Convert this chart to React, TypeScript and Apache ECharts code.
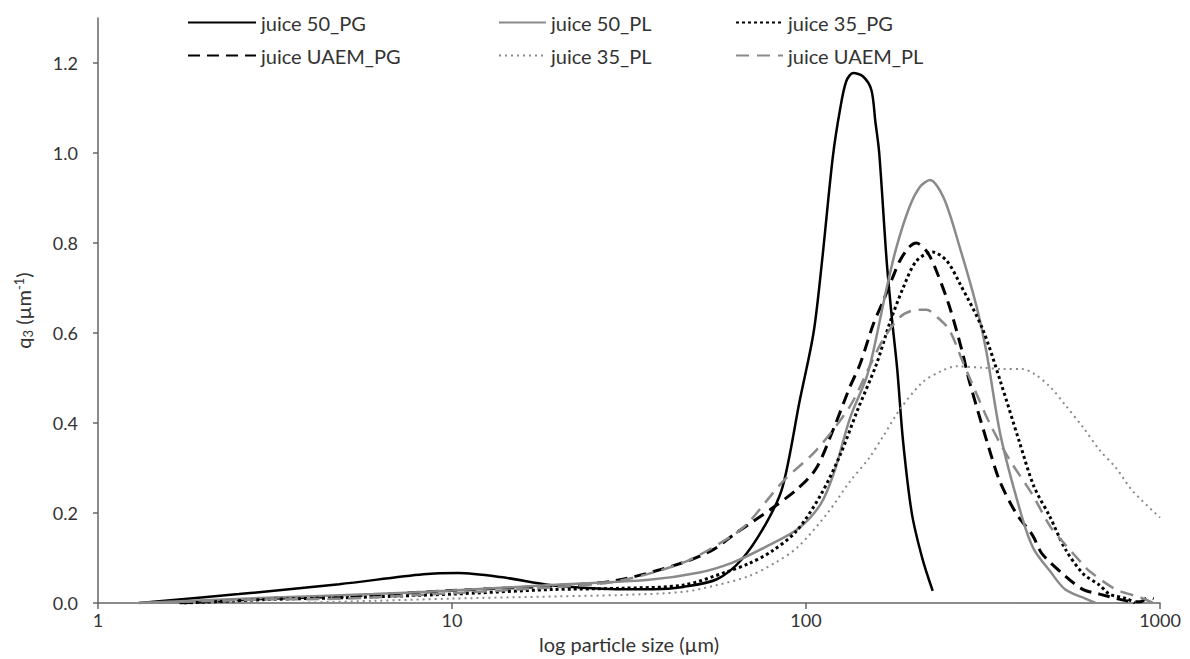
import React, { useEffect, useRef } from "react";
import * as echarts from "echarts";

const seriesNames = ["juice 50_PG", "juice UAEM_PG", "juice 50_PL", "juice 35_PL", "juice 35_PG", "juice UAEM_PL"];

const pg50X = [1.31, 2.5, 4.8, 8.3, 10.4, 13.7, 18.9, 23.4, 29, 37, 45, 56, 66, 77.5, 86, 96, 105, 111, 119, 125, 130, 136, 145, 153, 157, 161, 169, 175, 181, 188, 199, 213, 228];
const pg50Y = [0, 0.02, 0.042, 0.064, 0.067, 0.058, 0.04, 0.034, 0.031, 0.031, 0.036, 0.053, 0.098, 0.18, 0.26, 0.45, 0.6, 0.76, 0.99, 1.1, 1.16, 1.178, 1.17, 1.14, 1.07, 1.0, 0.76, 0.63, 0.52, 0.36, 0.2, 0.1, 0.027];

const pl50X = [1.3, 3, 6, 10, 19, 36, 50, 62, 77, 95, 110, 120, 133, 148, 155, 169, 180, 196, 210, 224, 245, 272, 303, 323, 355, 408, 440, 490, 540, 607, 660];
const pl50Y = [0, 0.012, 0.02, 0.028, 0.04, 0.052, 0.068, 0.09, 0.125, 0.165, 0.22, 0.29, 0.41, 0.5, 0.56, 0.7, 0.79, 0.88, 0.925, 0.94, 0.9, 0.79, 0.66, 0.56, 0.37, 0.19, 0.12, 0.07, 0.03, 0.012, 0];

const pg35X = [1.75, 3, 5, 10, 19, 30, 45, 60, 69, 80, 94, 110, 125, 140, 158, 172, 188, 205, 228, 250, 272, 315, 355, 400, 440, 490, 540, 607, 675, 720, 805, 850];
const pg35Y = [0, 0.008, 0.012, 0.02, 0.03, 0.033, 0.04, 0.07, 0.088, 0.115, 0.16, 0.24, 0.33, 0.43, 0.53, 0.62, 0.7, 0.76, 0.78, 0.76, 0.71, 0.61, 0.49, 0.36, 0.26, 0.19, 0.12, 0.065, 0.04, 0.02, 0.01, 0];

const uaemPgX = [1.7, 3, 5, 10, 19, 29, 45, 55, 62, 80, 95, 107, 120, 133, 142, 155, 165, 175, 184, 195, 205, 220, 233, 254, 276, 290, 330, 353, 392, 437, 464, 540, 607, 675, 805, 880, 930, 960];
const uaemPgY = [0, 0.01, 0.015, 0.028, 0.038, 0.05, 0.09, 0.12, 0.15, 0.21, 0.255, 0.3, 0.39, 0.48, 0.53, 0.62, 0.67, 0.72, 0.76, 0.79, 0.8, 0.78, 0.74, 0.66, 0.56, 0.49, 0.34, 0.27, 0.2, 0.15, 0.11, 0.06, 0.03, 0.02, 0.005, 0.003, 0.013, 0.01];

const pl35X = [3.5, 6, 10, 20, 30, 45, 56, 69, 82, 95, 115, 133, 150, 165, 184, 213, 240, 266, 316, 360, 408, 440, 490, 540, 607, 675, 752, 835, 1000];
const pl35Y = [0, 0.005, 0.01, 0.015, 0.018, 0.025, 0.04, 0.06, 0.09, 0.125, 0.2, 0.27, 0.32, 0.37, 0.43, 0.49, 0.515, 0.526, 0.523, 0.52, 0.52, 0.51, 0.48, 0.44, 0.39, 0.34, 0.3, 0.25, 0.19];

const uaemPlX = [1.3, 3, 5, 10, 19, 29, 45, 62, 69, 86, 107, 133, 150, 165, 184, 200, 219, 235, 254, 276, 290, 330, 375, 437, 490, 540, 607, 634, 752, 877, 960];
const uaemPlY = [0, 0.008, 0.01, 0.022, 0.035, 0.048, 0.09, 0.15, 0.18, 0.27, 0.34, 0.437, 0.52, 0.585, 0.635, 0.65, 0.652, 0.635, 0.607, 0.54, 0.5, 0.4, 0.32, 0.24, 0.17, 0.13, 0.085, 0.07, 0.03, 0.013, 0];

const yTicks = [0, 0.2, 0.4, 0.6, 0.8, 1.0, 1.2];

const pairs = (xs: number[], ys: number[]) => xs.map((x, i) => [x, ys[i]]);

const FONT = "Lato";
const TEXT = "#333333";
const AXIS = "#666666";
const GRAY = "#8a8a8a";
const FS = 20;

export default function App() {
  const ref = useRef<HTMLDivElement>(null);
  useEffect(() => {
    if (!ref.current) return;
    const chart = echarts.init(ref.current, undefined, { renderer: "svg" });
    const mk = (name: string, data: number[][], color: string, width: number, type: any) => ({
      name,
      type: "line",
      data,
      smooth: 0.3,
      symbol: "none",
      lineStyle: { color, width, type },
      itemStyle: { color },
      z: 2,
    });
    const legendBase = {
      orient: "vertical",
      top: 6,
      itemHeight: 14,
      itemGap: 10,
      itemStyle: { opacity: 0 },
      textStyle: { fontFamily: FONT, fontSize: FS, color: TEXT, lineHeight: 23 },
      selectedMode: false,
    };
    chart.setOption({
      animation: false,
      backgroundColor: "#ffffff",
      textStyle: { fontFamily: FONT },
      grid: { left: 98, right: 30, top: 18, bottom: 55, containLabel: false },
      legend: [
        { ...legendBase, left: 182, itemWidth: 68, data: [seriesNames[0], seriesNames[1]] },
        { ...legendBase, left: 493, itemWidth: 47, data: [seriesNames[2], seriesNames[3]] },
        { ...legendBase, left: 730, itemWidth: 47, data: [seriesNames[4], seriesNames[5]] },
      ],
      xAxis: {
        type: "log",
        logBase: 10,
        min: 1,
        max: 1000,
        name: "log particle size (µm)",
        nameLocation: "middle",
        nameGap: 30,
        nameTextStyle: { fontFamily: FONT, fontSize: FS, color: TEXT },
        axisLine: { lineStyle: { color: AXIS, width: 1.5 } },
        axisTick: { show: true, length: 6, lineStyle: { color: AXIS, width: 1.5 } },
        minorTick: { show: false },
        axisLabel: { fontFamily: FONT, fontSize: 18, color: TEXT, margin: 8, formatter: (v: number) => String(Math.round(v)) },
        splitLine: { show: false },
      },
      yAxis: {
        type: "value",
        min: 0,
        max: 1.3,
        interval: 0.2,
        name: "{q|q}{sub|3}{q| (µm}{sup|-1}{q|)}",
        nameLocation: "middle",
        nameGap: 64,
        nameRotate: 90,
        nameTextStyle: {
          fontFamily: FONT,
          fontSize: FS,
          color: TEXT,
          rich: {
            q: { fontFamily: FONT, fontSize: FS, color: TEXT },
            sub: { fontFamily: FONT, fontSize: 13, color: TEXT, verticalAlign: "bottom", padding: [9, 0, 0, 0] },
            sup: { fontFamily: FONT, fontSize: 13, color: TEXT, verticalAlign: "top", padding: [0, 0, 9, 0] },
          },
        },
        axisLine: { show: true, lineStyle: { color: AXIS, width: 1.5 } },
        axisTick: { show: true, length: 5, customValues: yTicks, lineStyle: { color: AXIS, width: 1.5 } },
        axisLabel: {
          fontFamily: FONT,
          fontSize: 18,
          color: TEXT,
          margin: 20,
          customValues: yTicks,
          formatter: (v: number) => v.toFixed(1),
        },
        splitLine: { show: false },
      },
      series: [
        mk(seriesNames[0], pairs(pg50X, pg50Y), "#000000", 2.5, "solid"),
        mk(seriesNames[1], pairs(uaemPgX, uaemPgY), "#000000", 3, [12, 7]),
        mk(seriesNames[2], pairs(pl50X, pl50Y), GRAY, 2.5, "solid"),
        mk(seriesNames[3], pairs(pl35X, pl35Y), GRAY, 2, [2, 4]),
        mk(seriesNames[4], pairs(pg35X, pg35Y), "#000000", 3, [3, 3]),
        mk(seriesNames[5], pairs(uaemPlX, uaemPlY), GRAY, 2.5, [13, 8]),
      ],
    });
    return () => chart.dispose();
  }, []);
  return (
    <div
      ref={ref}
      style={{ position: "absolute", left: 0, top: 0, width: 1190, height: 659, background: "#fff" }}
    />
  );
}
